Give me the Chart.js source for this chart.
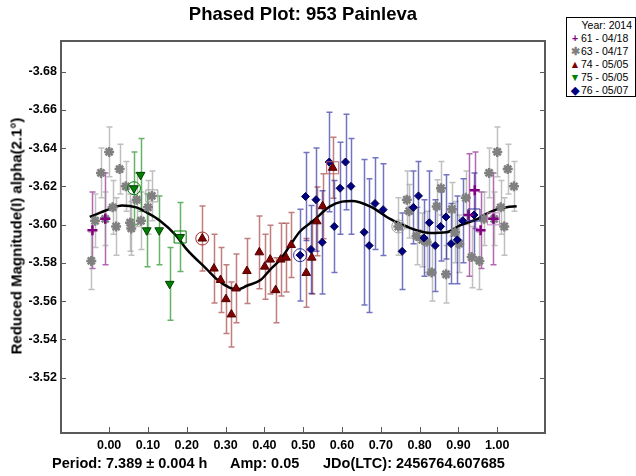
<!DOCTYPE html>
<html>
<head>
<meta charset="utf-8">
<script src="https://cdn.jsdelivr.net/npm/chart.js@4.4.1/dist/chart.umd.min.js"></script>
<style>
  body { margin: 0; background: #fff; font-family: "Liberation Sans", Arial, sans-serif; }
  #wrap { position: relative; width: 636px; height: 476px; }
  #title { position: absolute; left: 61px; width: 484px; top: 3px; text-align: center; font-weight: bold; font-size: 18.5px; }
  #ytitle { position: absolute; left: 16px; top: 236px; transform: translate(-50%, -50%) rotate(-90deg); font-weight: bold; font-size: 15px; white-space: nowrap; }
  #legend { position: absolute; left: 566px; top: 17px; width: 70px; height: 80px; border: 1px solid #000; box-sizing: border-box; font-size: 10.5px; background: #fff; }
  #legend .hd { text-align: right; padding-right: 3px; margin-top: 1px; height: 13px; }
  #legend .row { height: 13px; line-height: 13px; white-space: nowrap; }
  #legend .m { display: inline-block; width: 12px; text-align: center; margin-left: 2px; font-weight: bold; }
  #footer { position: absolute; top: 455px; left: 0; font-weight: bold; font-size: 14.5px; white-space: nowrap; }
  #footer span { position: absolute; }
</style>
</head>
<body>
<div id="wrap">
  <canvas id="plot" width="636" height="476"></canvas>
  <div id="title">Phased Plot: 953 Painleva</div>
  <div id="ytitle">Reduced Magnitude(I) alpha(2.1°)</div>
  <div id="legend">
    <div class="hd">Year: 2014</div>
    <div class="row"><span class="m" style="color:#800080">+</span>61 - 04/18</div>
    <div class="row"><span class="m" style="color:#808080">&#10033;</span>63 - 04/17</div>
    <div class="row"><span class="m" style="color:#800000">&#9650;</span>74 - 05/05</div>
    <div class="row"><span class="m" style="color:#008000">&#9660;</span>75 - 05/05</div>
    <div class="row"><span class="m" style="color:#000080">&#9670;</span>76 - 05/07</div>
  </div>
  <div id="footer">
    <span style="left:52px">Period: 7.389 ± 0.004 h</span>
    <span style="left:230px">Amp: 0.05</span>
    <span style="left:323px">JDo(LTC): 2456764.607685</span>
  </div>
</div>
<script>
// session 61 - 04/18
const phase61 = [-0.043, -0.010, 0.926, 0.942, 0.957, 0.990];
const mag61 = [-3.597, -3.603, -3.605, -3.618, -3.597, -3.603];
const err61 = [0.020, 0.024, 0.032, 0.020, 0.020, 0.024];

// session 63 - 04/17
const phase63 = [-0.046, -0.036, -0.021, -0.010, 0.000, 0.009, 0.018, 0.027, 0.043, 0.054, 0.057, 0.071, 0.082, 0.100, 0.110,
  0.745, 0.767, 0.773, 0.792, 0.807, 0.818, 0.831, 0.844, 0.855, 0.868, 0.883, 0.891, 0.902, 0.919, 0.934, 0.954, 0.966, 0.979, 0.992,
  1.000, 1.009, 1.018, 1.027, 1.043];
const mag63 = [-3.581, -3.602, -3.627, -3.603, -3.638, -3.609, -3.599, -3.629, -3.620, -3.601, -3.598, -3.613, -3.602, -3.609, -3.615,
  -3.599, -3.613, -3.607, -3.594, -3.592, -3.591, -3.575, -3.6095, -3.619, -3.574, -3.608, -3.596, -3.590, -3.614, -3.583, -3.581, -3.603, -3.627, -3.603,
  -3.638, -3.609, -3.599, -3.629, -3.620];
const err63 = [0.015, 0.014, 0.013, 0.014, 0.013, 0.014, 0.015, 0.013, 0.013, 0.015, 0.014, 0.014, 0.015, 0.014, 0.013,
  0.015, 0.015, 0.014, 0.015, 0.014, 0.016, 0.015, 0.014, 0.014, 0.015, 0.014, 0.016, 0.015, 0.014, 0.016, 0.015, 0.014, 0.013, 0.014,
  0.013, 0.014, 0.015, 0.013, 0.013];

// session 74 - 05/05
const phase74 = [0.240, 0.270, 0.287, 0.301, 0.315, 0.327, 0.355, 0.387, 0.401, 0.415, 0.429, 0.442, 0.456, 0.469, 0.508, 0.522, 0.535, 0.550, 0.576];
const mag74 = [-3.5927, -3.577, -3.571, -3.561, -3.553, -3.5666, -3.5757, -3.5855, -3.578, -3.5817, -3.5657, -3.5817, -3.5827, -3.5893, -3.5747, -3.5827, -3.6017, -3.6096, -3.6297];
const err74 = [0.017, 0.018, 0.017, 0.018, 0.017, 0.018, 0.017, 0.019, 0.017, 0.018, 0.017, 0.019, 0.018, 0.017, 0.018, 0.019, 0.018, 0.017, 0.016];

// session 75 - 05/05
const phase75 = [0.064, 0.081, 0.097, 0.129, 0.156, 0.183];
const mag75 = [-3.619, -3.626, -3.597, -3.597, -3.569, -3.5935];
const err75 = [0.019, 0.019, 0.019, 0.018, 0.019, 0.018];

// session 76 - 05/07
const phase76 = [0.492, 0.506, 0.520, 0.533, 0.549, 0.567, 0.580, 0.595, 0.609, 0.623, 0.657, 0.670, 0.685, 0.706, 0.755,
  0.784, 0.797, 0.811, 0.825, 0.840, 0.854, 0.868, 0.881, 0.897, 0.911, 0.940];
const mag76 = [-3.584, -3.6147, -3.587, -3.613, -3.5907, -3.6327, -3.599, -3.619, -3.6327, -3.620, -3.596, -3.589, -3.611, -3.6078, -3.586,
  -3.609, -3.615, -3.593, -3.601, -3.589, -3.599, -3.604, -3.590, -3.592, -3.602, -3.605];
const err76 = [0.024, 0.023, 0.023, 0.027, 0.027, 0.026, 0.024, 0.024, 0.025, 0.025, 0.038, 0.035, 0.024, 0.024, 0.020,
  0.019, 0.018, 0.020, 0.027, 0.024, 0.018, 0.022, 0.021, 0.023, 0.022, 0.022];

// first/last point marks
const ringPhase = [0.064, 0.240, 0.492, 0.745];
const ringMag = [-3.619, -3.5927, -3.584, -3.599];
const boxPhase = [0.110, 0.183, 0.576, 0.940, 0.990];
const boxMag = [-3.615, -3.5935, -3.6297, -3.605, -3.603];

// Fourier fit curve
const fitPhase = [-0.05, 0.0, 0.033, 0.07, 0.10, 0.131, 0.174, 0.20, 0.25, 0.28, 0.31, 0.33, 0.355, 0.39, 0.415, 0.44, 0.466, 0.49,
  0.526, 0.569, 0.60, 0.625, 0.672, 0.724, 0.767, 0.80, 0.827, 0.87, 0.904, 0.95, 0.973, 1.0, 1.024, 1.05];
const fitMag = [-3.604, -3.608, -3.610, -3.609, -3.606, -3.602, -3.594, -3.587, -3.577, -3.571, -3.567, -3.566, -3.568, -3.571, -3.5765, -3.5815, -3.589, -3.596,
  -3.602, -3.6095, -3.612, -3.6123, -3.6095, -3.603, -3.599, -3.5965, -3.5956, -3.596, -3.5996, -3.603, -3.6057, -3.608, -3.6091, -3.6096];

const xTicks = [0, 0.1, 0.2, 0.3, 0.4, 0.5, 0.6, 0.7, 0.8, 0.9, 1.0];
const yTicks = [-3.68, -3.66, -3.64, -3.62, -3.60, -3.58, -3.56, -3.54, -3.52];

function pts(ph, mg) {
  return ph.map((p, i) => ({ x: p, y: mg[i] }));
}

const errorBars = {
  id: "errorBars",
  beforeDatasetsDraw(chart) {
    const { ctx, chartArea, scales: { x, y } } = chart;
    ctx.save();
    ctx.beginPath();
    ctx.rect(chartArea.left, chartArea.top, chartArea.width, chartArea.height);
    ctx.clip();
    chart.data.datasets.forEach(ds => {
      if (!ds.errors) return;
      ctx.strokeStyle = ds.errorColor;
      ctx.lineWidth = 1.5;
      ds.data.forEach((p, j) => {
        const px = Math.round(x.getPixelForValue(p.x)) + 0.5;
        const y1 = y.getPixelForValue(p.y - ds.errors[j]);
        const y2 = y.getPixelForValue(p.y + ds.errors[j]);
        ctx.beginPath();
        ctx.moveTo(px, y1); ctx.lineTo(px, y2);
        ctx.moveTo(px - 3, y1); ctx.lineTo(px + 3, y1);
        ctx.moveTo(px - 3, y2); ctx.lineTo(px + 3, y2);
        ctx.stroke();
      });
    });
    ctx.restore();
  }
};

const frame = {
  id: "frame",
  afterDatasetsDraw(chart) {
    const { ctx, chartArea: a, scales: { x, y } } = chart;
    ctx.save();
    ctx.strokeStyle = "#5a5a5a";
    ctx.lineWidth = 1;
    ctx.beginPath();
    xTicks.forEach(v => {
      const px = Math.round(x.getPixelForValue(v)) + 0.5;
      ctx.moveTo(px, a.bottom); ctx.lineTo(px, a.bottom - 6);
    });
    yTicks.forEach(v => {
      const py = Math.round(y.getPixelForValue(v)) + 0.5;
      ctx.moveTo(a.left, py); ctx.lineTo(a.left + 5, py);
      ctx.moveTo(a.right, py); ctx.lineTo(a.right - 5, py);
    });
    ctx.stroke();
    ctx.lineWidth = 2;
    ctx.strokeRect(a.left, a.top, a.right - a.left, a.bottom - a.top);
    ctx.restore();
  }
};

const tickFont = { family: "'Liberation Sans', Arial, sans-serif", size: 12.5, weight: "bold" };

new Chart(document.getElementById("plot"), {
  type: "scatter",
  data: {
    datasets: [
      { label: "fit", data: pts(fitPhase, fitMag), showLine: true, borderColor: "#000", borderWidth: 2.5,
        pointRadius: 0, cubicInterpolationMode: "monotone", order: 10 },
      { label: "61 - 04/18", data: pts(phase61, mag61), errors: err61, errorColor: "rgba(128,0,128,0.6)",
        pointStyle: "cross", pointRadius: 5, borderWidth: 2.5, borderColor: "#800080", backgroundColor: "#800080", order: 1 },
      { label: "63 - 04/17", data: pts(phase63, mag63), errors: err63, errorColor: "rgba(150,150,150,0.6)",
        pointStyle: "star", pointRadius: 5, borderWidth: 2.5, borderColor: "#808080", backgroundColor: "#808080", order: 5 },
      { label: "74 - 05/05", data: pts(phase74, mag74), errors: err74, errorColor: "rgba(140,20,20,0.55)",
        pointStyle: "triangle", pointRadius: 5, borderWidth: 1, borderColor: "#500000", backgroundColor: "#800000", order: 4 },
      { label: "75 - 05/05", data: pts(phase75, mag75), errors: err75, errorColor: "rgba(0,128,0,0.6)",
        pointStyle: "triangle", rotation: 180, pointRadius: 5, borderWidth: 1, borderColor: "#004000", backgroundColor: "#008000", order: 3 },
      { label: "76 - 05/07", data: pts(phase76, mag76), errors: err76, errorColor: "rgba(0,0,140,0.55)",
        pointStyle: "rectRot", pointRadius: 4, borderWidth: 1, borderColor: "#000050", backgroundColor: "#000080", order: 2 },
      { label: "ring", data: pts(ringPhase, ringMag), pointStyle: "circle", pointRadius: 6.5, borderWidth: 1,
        backgroundColor: "rgba(0,0,0,0)", borderColor: ["#008000", "#a03030", "#303090", "#a0a0a0"], order: 0 },
      { label: "box", data: pts(boxPhase, boxMag), pointStyle: "rect", pointRadius: 8.5, borderWidth: 1,
        backgroundColor: "rgba(0,0,0,0)", borderColor: ["#a0a0a0", "#008000", "#c06060", "#303090", "#c080c0"], order: 0 }
    ]
  },
  options: {
    responsive: false,
    animation: false,
    devicePixelRatio: 1,
    layout: { padding: { left: 0, top: 41, right: 91, bottom: 0 } },
    plugins: { legend: { display: false }, tooltip: { enabled: false }, title: { display: false } },
    scales: {
      x: {
        type: "linear", min: -0.124, max: 1.123,
        afterBuildTicks: s => { s.ticks = xTicks.map(v => ({ value: v })); },
        afterFit: s => { s.height = 43; },
        grid: { display: false, drawTicks: false }, border: { display: false },
        ticks: { color: "#000", font: tickFont, padding: 5, maxRotation: 0, callback: v => v.toFixed(2) }
      },
      y: {
        type: "linear", reverse: true, min: -3.696, max: -3.491,
        afterBuildTicks: s => { s.ticks = yTicks.map(v => ({ value: v })); },
        afterFit: s => { s.width = 61; },
        grid: { display: false, drawTicks: false }, border: { display: false },
        ticks: { color: "#000", font: tickFont, padding: 4, callback: v => v.toFixed(2) }
      }
    }
  },
  plugins: [errorBars, frame]
});
</script>
</body>
</html>
